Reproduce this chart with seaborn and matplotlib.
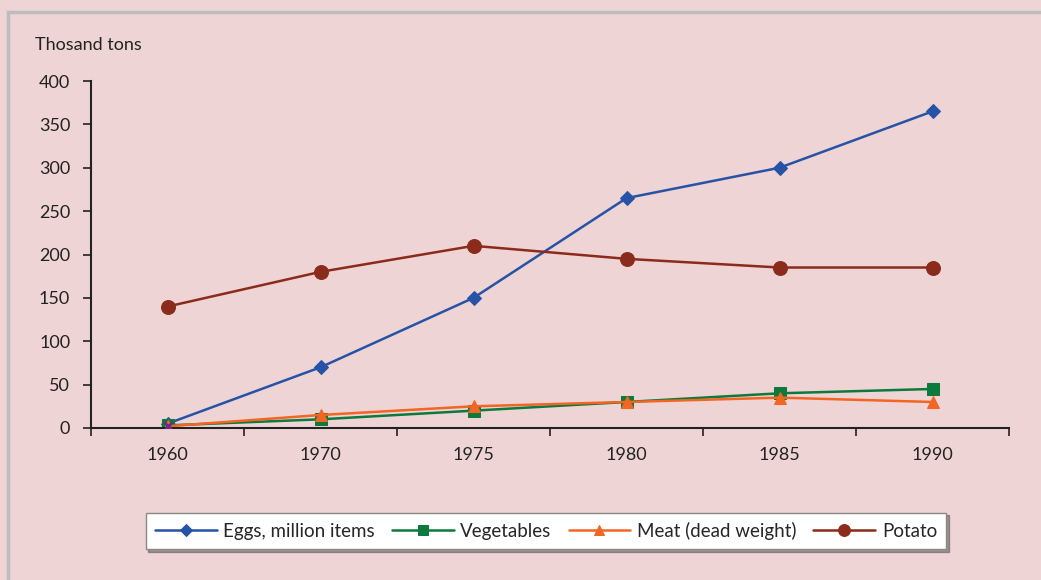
import matplotlib
matplotlib.use("Agg")
import matplotlib.pyplot as plt
import seaborn as sns
import pandas as pd
from matplotlib.patches import Rectangle

# Data
years = ["1960", "1970", "1975", "1980", "1985", "1990"]
eggs = [5, 70, 150, 265, 300, 365]
vegetables = [3, 10, 20, 30, 40, 45]
meat = [2, 15, 25, 30, 35, 30]
potato = [140, 180, 210, 195, 185, 185]
y_ticks = [0, 50, 100, 150, 200, 250, 300, 350, 400]

series = [
    ("Eggs, million items", eggs, "#2653a6", "D", 7),
    ("Vegetables", vegetables, "#0b7a3c", "s", 8),
    ("Meat (dead weight)", meat, "#f26522", "^", 9),
    ("Potato", potato, "#8b2b1b", "o", 10),
]

bg = "#efd4d5"
sns.set_theme(style="white")
plt.rcParams["font.family"] = ["Lato", "DejaVu Sans"]

fig = plt.figure(figsize=(10.41, 5.8), dpi=100, facecolor=bg)
ax = fig.add_axes([91 / 1041, 1 - 428 / 580, 918 / 1041, 347 / 580])
ax.set_facecolor(bg)

for name, vals, col, mk, ms in series:
    df = pd.DataFrame({"year": years, "value": vals})
    sns.lineplot(data=df, x="year", y="value", ax=ax, color=col, marker=mk,
                 markersize=ms, markeredgecolor=col, linewidth=1.8, label=name)

# small purple cross at the first point (unlabelled in the legend)
sns.scatterplot(x=[years[0]], y=[2], ax=ax, marker="x", color="#6a2c8a",
                s=40, linewidth=2, legend=False, zorder=5)

ax.set_xlim(-0.5, len(years) - 0.5)
ax.set_ylim(0, 400)
ax.set_yticks(y_ticks)
ax.set_xlabel("")
ax.set_ylabel("")
ax.set_xticks(range(len(years)))
ax.set_xticklabels(years)
ax.set_xticks([i - 0.5 for i in range(len(years) + 1)], minor=True)
ax.tick_params(axis="x", which="major", length=0, pad=14, labelsize=13, colors="#222222")
ax.tick_params(axis="x", which="minor", length=6, width=1.2, color="#222222", direction="out", bottom=True)
ax.tick_params(axis="y", length=6, width=1.2, color="#222222", direction="out", left=True,
               labelsize=13, labelcolor="#222222", pad=9)

for side in ["top", "right"]:
    ax.spines[side].set_visible(False)
for side in ["left", "bottom"]:
    ax.spines[side].set_color("#222222")
    ax.spines[side].set_linewidth(1.5)

fig.text(35 / 1041, 1 - 45 / 580, "Thosand tons", fontsize=13, color="#222222", va="center")

leg = ax.legend(loc="center", bbox_to_anchor=(546 / 1041, 1 - 531 / 580),
                bbox_transform=fig.transFigure, ncol=4, frameon=True, fancybox=False,
                shadow=True, fontsize=13.5, handlelength=3.3, handletextpad=0.35,
                columnspacing=0.9, borderpad=0.5, markerscale=0.85)
leg.get_frame().set_edgecolor("#888888")
leg.get_frame().set_facecolor("white")
leg.get_frame().set_linewidth(1.0)

# outer frame of the chart area
fig.patches.append(Rectangle((8 / 1041, -0.1), 1.2, 1.1 - 12 / 580, transform=fig.transFigure,
                             fill=False, edgecolor="#bdbdbd", linewidth=2.5))

fig.savefig("out.png", dpi=100, facecolor=bg)
